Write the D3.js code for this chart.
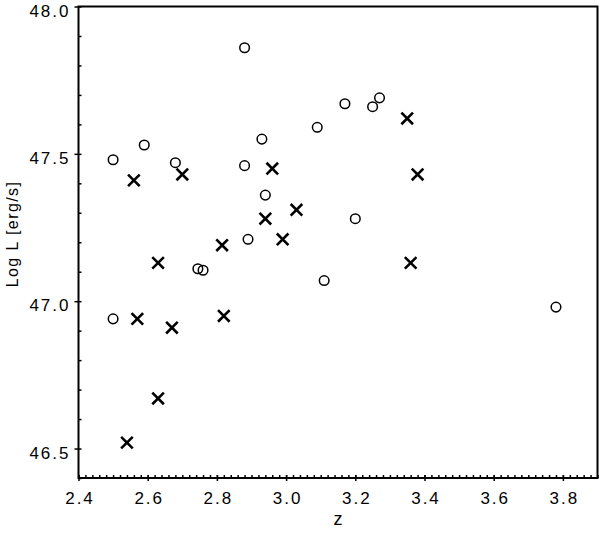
<!DOCTYPE html>
<html>
<head>
<meta charset="utf-8">
<script src="https://cdn.jsdelivr.net/npm/d3@7"></script>
<style>
  body { margin: 0; background: #fff; }
  svg text { font-family: "Liberation Sans", Arial, sans-serif; fill: #000; }
</style>
</head>
<body>
<div id="chart"></div>
<script>
// open circles
var circleZ = [2.50, 2.59, 2.68, 2.88, 2.93, 3.09, 2.94, 2.89, 2.745, 2.76, 3.11, 3.17, 3.25, 3.27, 3.20, 2.88, 2.50, 3.78];
var circleL = [47.48, 47.53, 47.47, 47.46, 47.55, 47.59, 47.36, 47.21, 47.11, 47.105, 47.07, 47.67, 47.66, 47.69, 47.28, 47.86, 46.94, 46.98];

// crosses
var crossZ = [2.56, 2.70, 2.96, 2.94, 3.03, 2.99, 2.815, 2.63, 3.35, 3.38, 3.36, 2.57, 2.67, 2.82, 2.63, 2.54];
var crossL = [47.41, 47.43, 47.45, 47.28, 47.31, 47.21, 47.19, 47.13, 47.62, 47.43, 47.13, 46.94, 46.91, 46.95, 46.67, 46.52];

var xTicks = [2.4, 2.6, 2.8, 3.0, 3.2, 3.4, 3.6, 3.8];
var yTicks = [46.5, 47.0, 47.5, 48.0];

var width = 600, height = 537;
var plot = { left: 78.5, right: 597.5, top: 6.5, bottom: 478 };

var x = d3.scaleLinear().domain([2.4, 3.9]).range([plot.left, plot.right]);
var y = d3.scaleLinear().domain([46.4, 48.0]).range([plot.bottom, plot.top]);

var svg = d3.select('#chart').append('svg')
  .attr('width', width)
  .attr('height', height);

// minor ticks
var xMinor = d3.range(0, 76).map(function (i) { return 2.4 + i * 0.02; });
var yMinor = d3.range(0, 17).map(function (i) { return 46.4 + i * 0.1; });

svg.append('g')
  .attr('transform', 'translate(0,' + plot.bottom + ')')
  .call(d3.axisBottom(x).tickValues(xMinor).tickSize(-3).tickFormat(''))
  .call(function (g) { g.select('.domain').remove(); })
  .selectAll('line').attr('stroke-width', 1.5);

svg.append('g')
  .attr('transform', 'translate(' + plot.left + ',0)')
  .call(d3.axisLeft(y).tickValues(yMinor).tickSize(-3).tickFormat(''))
  .call(function (g) { g.select('.domain').remove(); })
  .selectAll('line').attr('stroke-width', 1.5);

// major ticks and labels
var xAxis = svg.append('g')
  .attr('transform', 'translate(0,' + plot.bottom + ')')
  .call(d3.axisBottom(x).tickValues(xTicks).tickSize(3).tickPadding(11).tickFormat(d3.format('.1f')));
xAxis.select('.domain').remove();
xAxis.selectAll('.tick line').attr('y1', -3).attr('stroke-width', 1.5);
xAxis.selectAll('text')
  .attr('font-size', 17)
  .attr('letter-spacing', 2)
  .attr('dx', 1);

var yAxis = svg.append('g')
  .attr('transform', 'translate(' + plot.left + ',0)')
  .call(d3.axisLeft(y).tickValues(yTicks).tickSize(4).tickPadding(6).tickFormat(d3.format('.1f')));
yAxis.select('.domain').remove();
yAxis.selectAll('.tick line').attr('stroke-width', 1.5);
yAxis.selectAll('text')
  .attr('font-size', 17)
  .attr('letter-spacing', 2)
  .attr('dx', 2)
  .attr('dy', '0.56em');

// frame
svg.append('rect')
  .attr('x', plot.left)
  .attr('y', plot.top)
  .attr('width', plot.right - plot.left)
  .attr('height', plot.bottom - plot.top)
  .attr('fill', 'none')
  .attr('stroke', '#000')
  .attr('stroke-width', 2);

// axis titles
svg.append('text')
  .attr('x', (plot.left + plot.right) / 2)
  .attr('y', 525)
  .attr('text-anchor', 'middle')
  .attr('font-size', 18)
  .text('z');

svg.append('text')
  .attr('transform', 'translate(18,234) rotate(-90)')
  .attr('text-anchor', 'middle')
  .attr('font-size', 16)
  .attr('letter-spacing', 1.4)
  .text('Log L [erg/s]');

// marks
var circles = circleZ.map(function (z, i) { return { z: z, l: circleL[i] }; });
var crosses = crossZ.map(function (z, i) { return { z: z, l: crossL[i] }; });

svg.append('g').selectAll('circle')
  .data(circles)
  .join('circle')
  .attr('cx', function (d) { return x(d.z); })
  .attr('cy', function (d) { return y(d.l); })
  .attr('r', 4.8)
  .attr('fill', 'none')
  .attr('stroke', '#000')
  .attr('stroke-width', 1.5);

var s = 5.8;
svg.append('g').selectAll('path')
  .data(crosses)
  .join('path')
  .attr('d', function (d) {
    var cx = x(d.z), cy = y(d.l);
    return 'M' + (cx - s) + ',' + (cy - s) + 'L' + (cx + s) + ',' + (cy + s) +
           'M' + (cx - s) + ',' + (cy + s) + 'L' + (cx + s) + ',' + (cy - s);
  })
  .attr('stroke', '#000')
  .attr('stroke-width', 2.6)
  .attr('fill', 'none');
</script>
</body>
</html>
